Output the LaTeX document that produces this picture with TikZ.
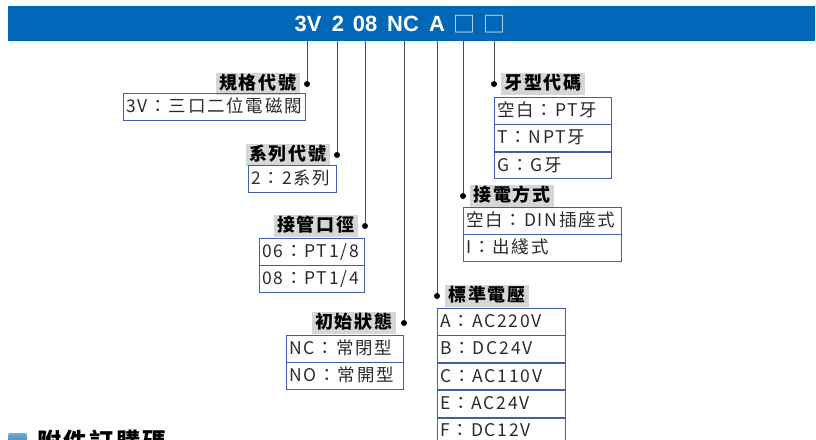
\documentclass[tikz,border=0pt]{standalone}
\usepackage{fontspec}
\setmainfont{Noto Sans CJK TC}[LetterSpace=10]
\newfontfamily\barfont{Liberation Sans}
\usetikzlibrary{positioning}
\definecolor{barblue}{HTML}{0068B7}
\definecolor{cellblue}{HTML}{3F5FA8}
\definecolor{lblgray}{HTML}{D6D6D6}
\definecolor{txtgray}{HTML}{2B2B2B}
\tikzset{
	code/.style={text=white, inner sep=0pt, font=\barfont\bfseries\fontsize{22}{22}\selectfont},
	lbl/.style={fill=lblgray, inner xsep=3pt, inner ysep=0pt, minimum height=22pt, text height=14pt, text depth=3pt, font=\bfseries\fontsize{18}{18}\selectfont},
	cell/.style={draw=cellblue, line width=0.9pt, anchor=north west, text width=#1, align=left, inner xsep=3pt, inner ysep=0pt, minimum height=26.5pt, text height=14pt, text depth=3pt, text=txtgray, font=\fontsize{17.5}{17.5}\selectfont},
	bullet/.style={circle, fill=black, inner sep=0pt, minimum size=6pt},
	lead/.style={draw=black!70, line width=0.8pt},
}
\begin{document}
\begin{tikzpicture}[x=1pt,y=-1pt]
	\useasboundingbox (0,0) rectangle (816,439);
	\clip (0,0) rectangle (816,439);
	\node[fill=barblue, anchor=north west, minimum width=807pt, minimum height=35pt, inner sep=0pt] (bar) at (8,6) {};
	\node[code] (c3v) at (308,24) {3V};
	\node[code] (c2) at (338,24) {2};
	\node[code] (c08) at (365,24) {08};
	\node[code] (cnc) at (403,24) {NC};
	\node[code] (ca) at (437,24) {A};
	\node[code, text=white!85!barblue, font=\fontsize{22}{22}\selectfont] (cx1) at (464,24) {□};
	\node[code, text=white!85!barblue, font=\fontsize{22}{22}\selectfont] (cx2) at (494,24) {□};
	\node[bullet] (d3v) at (307,84) {};
	\node[bullet] (d2) at (337,155) {};
	\node[bullet] (d08) at (365,226) {};
	\node[bullet] (dnc) at (404,323) {};
	\node[bullet] (da) at (437,296) {};
	\node[bullet] (dx1) at (463,196) {};
	\node[bullet] (dx2) at (494,84) {};
	\foreach \d in {d3v,d2,d08,dnc,da,dx1,dx2}
		\draw[lead] (\d |- bar.south) -- (\d);
	\node[lbl, left=4pt of d3v] (l3v) {規格代號};
	\node[lbl, left=4pt of d2] (l2) {系列代號};
	\node[lbl, left=4pt of d08] (l08) {接管口徑};
	\node[lbl, left=5pt of dnc] (lnc) {初始狀態};
	\node[lbl, right=5pt of da] (la) {標準電壓};
	\node[lbl, right=4pt of dx1] (lx1) {接電方式};
	\node[lbl, right=4pt of dx2] (lx2) {牙型代碼};
	\node[cell=176pt] (t3v) at (123,93) {3V：三口二位電磁閥};
	\node[cell=82pt] (t2) at (248,165) {2：2系列};
	\node[cell=99pt] (t08a) at (259,238) {06：PT1/8};
	\node[cell=99pt] (t08b) at (t08a.south west) {08：PT1/4};
	\node[cell=111pt] (tnc1) at (286,335) {NC：常閉型};
	\node[cell=111pt] (tnc2) at (tnc1.south west) {NO：常開型};
	\node[cell=122pt] (ta1) at (437,308) {A：AC220V};
	\node[cell=122pt] (ta2) at (ta1.south west) {B：DC24V};
	\node[cell=122pt] (ta3) at (ta2.south west) {C：AC110V};
	\node[cell=122pt] (ta4) at (ta3.south west) {E：AC24V};
	\node[cell=122pt] (ta5) at (ta4.south west) {F：DC12V};
	\node[cell=152pt] (tx1a) at (463,207) {空白：DIN插座式};
	\node[cell=152pt] (tx1b) at (tx1a.south west) {I：出綫式};
	\node[cell=111pt] (tx2a) at (494,97) {空白：PT牙};
	\node[cell=111pt] (tx2b) at (tx2a.south west) {T：NPT牙};
	\node[cell=111pt] (tx2c) at (tx2b.south west) {G：G牙};
	\shade[top color=barblue!55, bottom color=barblue, rounded corners=2pt] (8,433) rectangle (27,452);
	\node[anchor=base west, inner sep=0pt, font=\bfseries\fontsize{24}{24}\selectfont] (extra) at (37,450) {附件訂購碼};
\end{tikzpicture}
\end{document}
